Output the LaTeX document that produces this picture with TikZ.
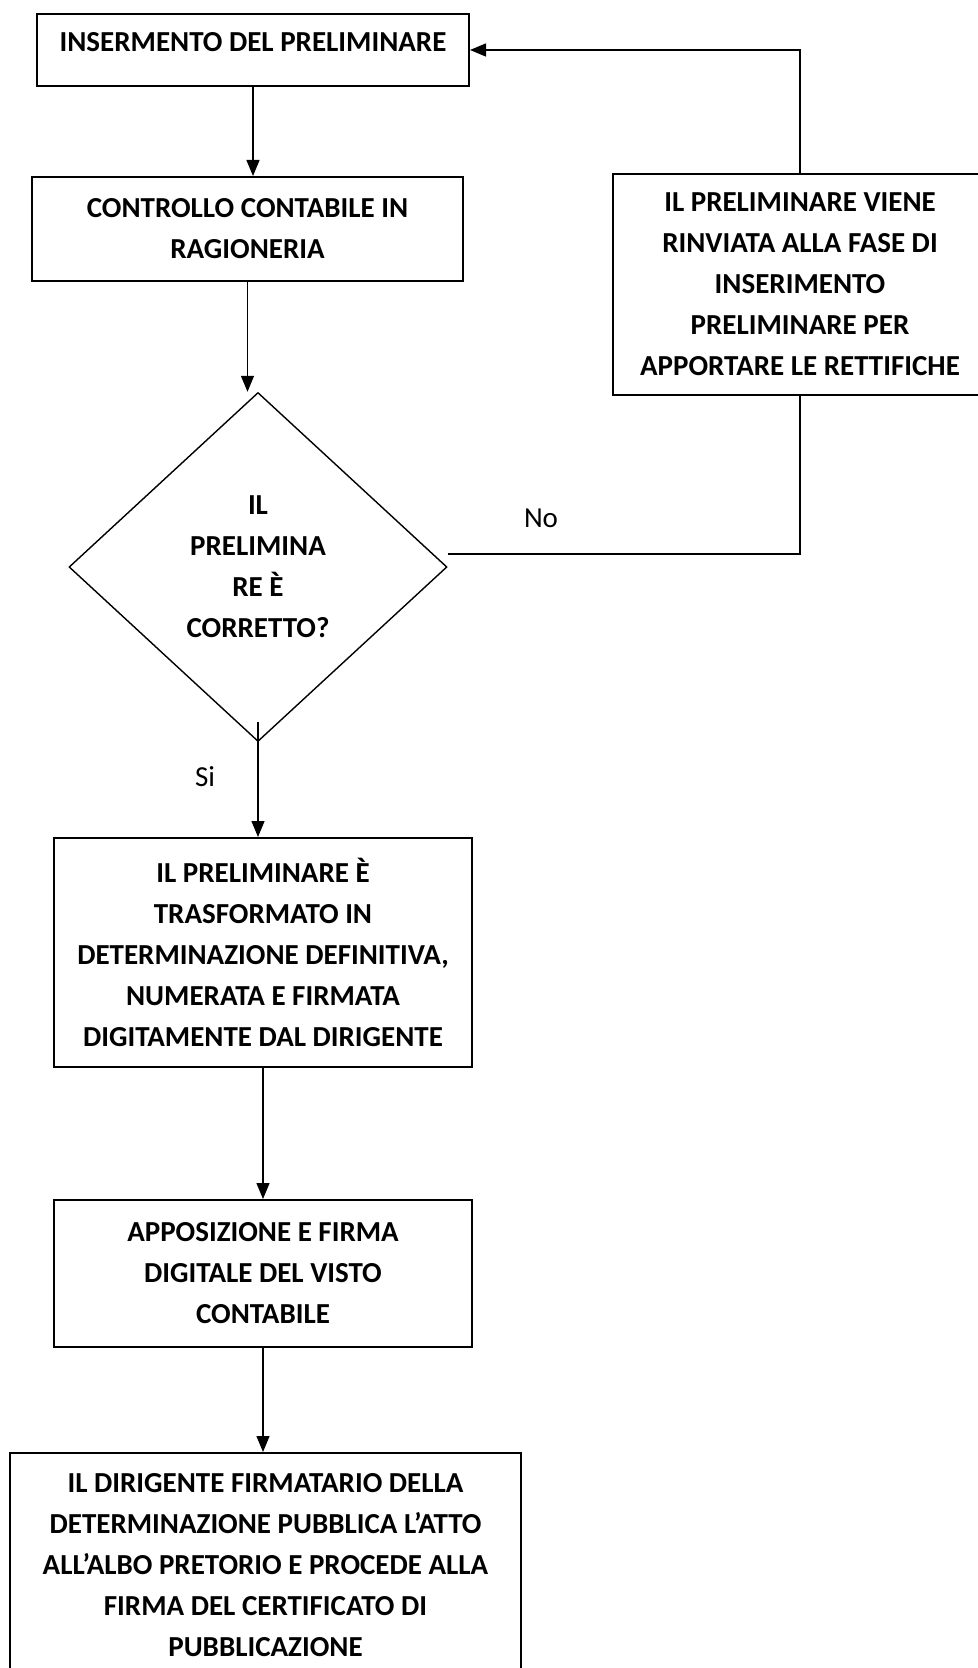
\documentclass[tikz,border=0pt]{standalone}
\usepackage{fontspec}
\setmainfont{Carlito}
\usetikzlibrary{shapes.geometric,arrows.meta}
\begin{document}
\begin{tikzpicture}[x=0.5pt, y=-0.5pt, >={Triangle[length=8pt,width=6.5pt]}, line width=0.65pt,
    main node/.style={draw, line width=1pt, align=center, inner sep=0pt, font=\bfseries\fontsize{14.5}{20.5}\selectfont},
    dec node/.style={main node, diamond, line width=0.7pt},
    lbl node/.style={inner sep=0pt, font=\fontsize{14.5}{17}\selectfont}]
    \useasboundingbox (0,0) rectangle (978,1668);
    \node[main node, minimum width=216pt, minimum height=36pt, text depth=8pt] (1) at (253,50) {INSERMENTO DEL PRELIMINARE};
    \node[main node, minimum width=215.5pt, minimum height=52pt] (2) at (247.5,229) {CONTROLLO CONTABILE IN\\RAGIONERIA};
    \node[dec node, minimum width=189pt, minimum height=174.5pt] (3) at (258,567) {IL\\PRELIMINA\\RE È\\CORRETTO?};
    \node[main node, minimum width=209pt, minimum height=114.5pt] (4) at (263,952.5) {IL PRELIMINARE È\\TRASFORMATO IN\\DETERMINAZIONE DEFINITIVA,\\NUMERATA E FIRMATA\\DIGITAMENTE DAL DIRIGENTE};
    \node[main node, minimum width=209pt, minimum height=73.5pt] (5) at (263,1273.5) {APPOSIZIONE E FIRMA\\DIGITALE DEL VISTO\\CONTABILE};
    \node[main node, minimum width=255.5pt, minimum height=112pt] (6) at (265.5,1565) {IL DIRIGENTE FIRMATARIO DELLA\\DETERMINAZIONE PUBBLICA L’ATTO\\ALL’ALBO PRETORIO E PROCEDE ALLA\\FIRMA DEL CERTIFICATO DI\\PUBBLICAZIONE};
    \node[main node, minimum width=187pt, minimum height=110.5pt] (7) at (800,284.5) {IL PRELIMINARE VIENE\\RINVIATA ALLA FASE DI\\INSERIMENTO\\PRELIMINARE PER\\APPORTARE LE RETTIFICHE};
    \node[lbl node] (no) at (541,518) {No};
    \node[lbl node] (si) at (205,777) {Si};
    \path[->]
    (1) edge (1.south |- 2.north)
    (2) edge (2.south |- 3.north)
    ([yshift=10pt]3.south) edge (3.south |- 4.north)
    (4) edge (4.south |- 5.north)
    (5) edge (5.south |- 6.north);
    \draw ([yshift=6.5pt]3.east) -| (7.south);
    \draw[->] (7.north) |- (1.east);
\end{tikzpicture}
\end{document}
